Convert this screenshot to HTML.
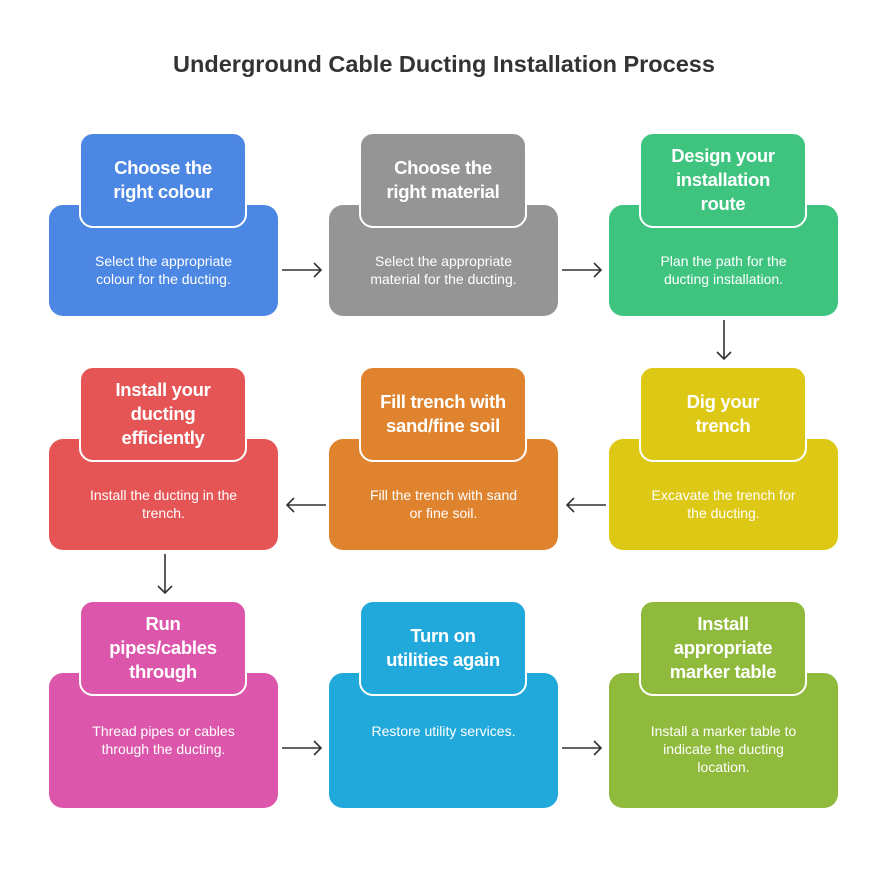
<!DOCTYPE html><html><head><style>
body{margin:0;width:888px;height:882px;background:#fff;font-family:"Liberation Sans",sans-serif;position:relative;overflow:hidden}
.t{position:absolute;left:0;width:888px;top:51px;text-align:center;font-size:23.5px;font-weight:bold;color:#333}
.b{position:absolute;width:229px;border-radius:14px;color:#fff;display:flex;align-items:center;justify-content:center;text-align:center;font-size:14px;line-height:18px;box-sizing:border-box;padding:19px 36px 0}
.r3{align-items:flex-start;padding:49px 36px 0}
.h{position:absolute;width:168px;height:96px;border-radius:14px;border:2px solid #fff;box-sizing:border-box;color:#fff;font-weight:bold;font-size:18.5px;line-height:24px;display:flex;align-items:center;justify-content:center;text-align:center;letter-spacing:-0.3px}
svg{position:absolute;left:0;top:0}
</style></head><body>
<div class="t">Underground Cable Ducting Installation Process</div>

<div class="b" style="left:49px;top:205px;height:111px;background:#4c87e3">Select the appropriate colour for the ducting.</div>
<div class="h" style="left:79px;top:132px;background:#4c87e3">Choose the<br>right colour</div>
<div class="b" style="left:329px;top:205px;height:111px;background:#959595">Select the appropriate material for the ducting.</div>
<div class="h" style="left:359px;top:132px;background:#959595">Choose the<br>right material</div>
<div class="b" style="left:609px;top:205px;height:111px;background:#3ec47f">Plan the path for the ducting installation.</div>
<div class="h" style="left:639px;top:132px;background:#3ec47f">Design your<br>installation<br>route</div>

<div class="b" style="left:49px;top:439px;height:111px;background:#e55555">Install the ducting in the trench.</div>
<div class="h" style="left:79px;top:366px;background:#e55555">Install your<br>ducting<br>efficiently</div>
<div class="b" style="left:329px;top:439px;height:111px;background:#e0832e">Fill the trench with sand or fine soil.</div>
<div class="h" style="left:359px;top:366px;background:#e0832e">Fill trench with<br>sand/fine soil</div>
<div class="b" style="left:609px;top:439px;height:111px;background:#dec816">Excavate the trench for the ducting.</div>
<div class="h" style="left:639px;top:366px;background:#dec816">Dig your<br>trench</div>

<div class="b r3" style="left:49px;top:673px;height:135px;background:#dc57ab">Thread pipes or cables through the ducting.</div>
<div class="h" style="left:79px;top:600px;background:#dc57ab">Run<br>pipes/cables<br>through</div>
<div class="b r3" style="left:329px;top:673px;height:135px;background:#22a9db">Restore utility services.</div>
<div class="h" style="left:359px;top:600px;background:#22a9db">Turn on<br>utilities again</div>
<div class="b r3" style="left:609px;top:673px;height:135px;background:#8fba3b">Install a marker table to indicate the ducting location.</div>
<div class="h" style="left:639px;top:600px;background:#8fba3b">Install<br>appropriate<br>marker table</div>

<svg width="888" height="882" fill="none" stroke="#333" stroke-width="1.6">
<path d="M282 270H321M314 263l7 7-7 7"/>
<path d="M562 270H601M594 263l7 7-7 7"/>
<path d="M724 320V359M717 352l7 7 7-7"/>
<path d="M606 505H567M574 498l-7 7 7 7"/>
<path d="M326 505H287M294 498l-7 7 7 7"/>
<path d="M165 554V593M158 586l7 7 7-7"/>
<path d="M282 748H321M314 741l7 7-7 7"/>
<path d="M562 748H601M594 741l7 7-7 7"/>
</svg>
</body></html>
